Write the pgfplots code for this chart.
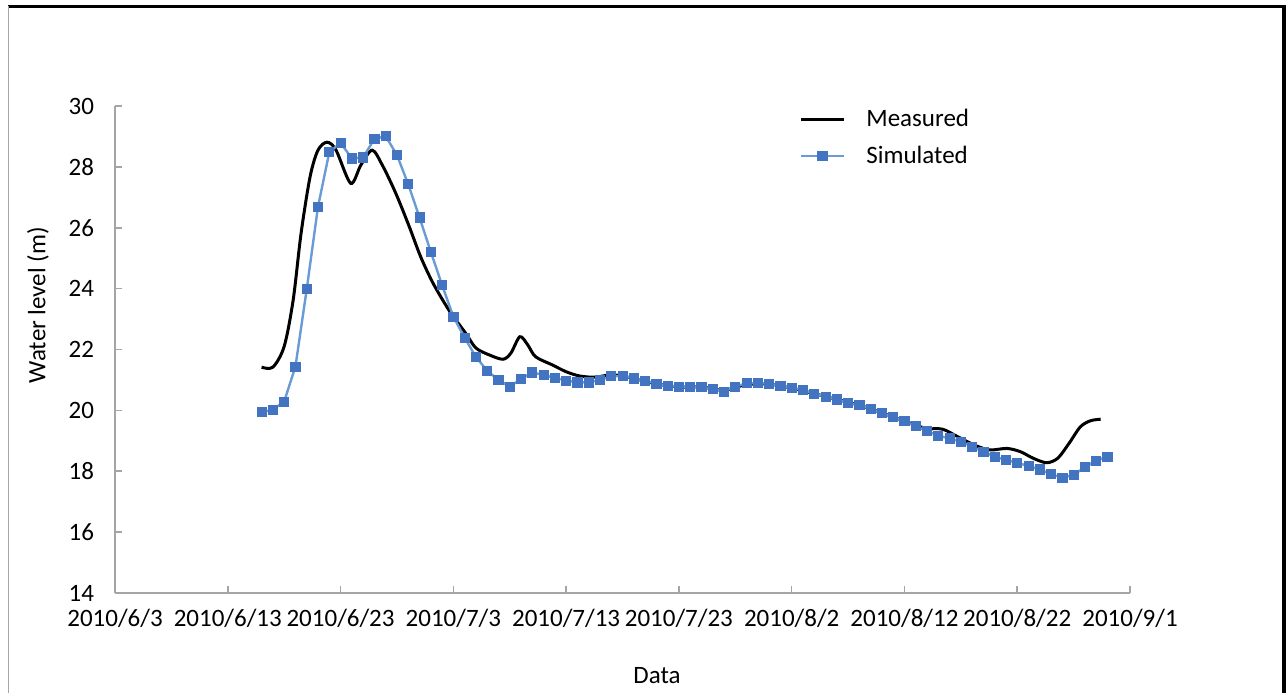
\documentclass[border=0pt]{standalone}
\usepackage{fontspec}
\setmainfont{Carlito}
\usepackage{pgfplots}
\pgfplotsset{compat=1.18}
\usepackage{pgfplotstable}

\definecolor{simline}{RGB}{105,155,212}
\definecolor{simmark}{RGB}{66,116,194}
\definecolor{axgray}{RGB}{165,165,165}

% measured water level (day counted from 2010/6/3)
\pgfplotstableread{
day level
13 21.42
14 21.42
15 22.10
15.8 23.63
16.5 25.82
17.3 27.68
18.0 28.55
18.8 28.81
19.6 28.55
20.9 27.46
21.8 28.06
22.8 28.55
23.7 28.06
24.9 27.13
26.1 26.03
27.1 25.05
28.2 24.18
29.6 23.30
31.1 22.53
32.0 22.05
33.2 21.82
34.4 21.68
35.1 21.88
35.9 22.42
36.6 22.15
37.3 21.76
38.8 21.49
40.0 21.27
41.2 21.13
42.6 21.09
44.1 21.17
46 21.05
48 20.87
50 20.77
52 20.77
54 20.66
56 20.85
58 20.86
60 20.73
62 20.55
64 20.36
66 20.17
68 19.92
70 19.65
71.9 19.41
73.4 19.38
74.9 19.10
76.4 18.83
77.6 18.70
79.1 18.75
80.3 18.64
81.4 18.43
82.6 18.28
83.6 18.43
84.6 18.92
85.6 19.46
86.5 19.66
87.4 19.71
}\measured

% simulated, one value a day
\pgfplotstableread{
day level
13 19.94
14 20.02
15 20.29
16 21.44
17 23.98
18 26.69
19 28.48
20 28.79
21 28.28
22 28.31
23 28.92
24 29.01
25 28.39
26 27.43
27 26.34
28 25.21
29 24.12
30 23.08
31 22.39
32 21.76
33 21.30
34 21.00
35 20.78
36 21.03
37 21.25
38 21.16
39 21.07
40 20.98
41 20.92
42 20.92
43 21.00
44 21.12
45 21.13
46 21.05
47 20.98
48 20.87
49 20.80
50 20.78
51 20.78
52 20.76
53 20.70
54 20.62
55 20.78
56 20.89
57 20.89
58 20.88
59 20.80
60 20.73
61 20.67
62 20.55
63 20.45
64 20.36
65 20.25
66 20.17
67 20.05
68 19.92
69 19.79
70 19.65
71 19.48
72 19.32
73 19.17
74 19.08
75 18.97
76 18.81
77 18.64
78 18.48
79 18.37
80 18.28
81 18.17
82 18.06
83 17.90
84 17.79
85 17.88
86 18.13
87 18.35
88 18.48
}\simulated

\begin{document}
\begin{tikzpicture}[font=\fontsize{12.5}{15}\selectfont]
\useasboundingbox (0,0) rectangle (643.5pt,346.5pt);
% outer frame
\draw[black, line width=1.6pt] (4pt,343.3pt) -- (642pt,343.3pt) -- (642pt,0pt);
\draw[gray!70, line width=0.7pt] (4.2pt,343.3pt) -- (4.2pt,0pt);
\begin{axis}[
    at={(57.5pt,50pt)}, anchor=south west,
    scale only axis,
    width=507.5pt, height=243.5pt,
    xmin=0, xmax=90,
    ymin=14, ymax=30,
    axis x line*=bottom,
    axis y line*=left,
    axis line style={draw=axgray, line width=1pt, -},
    xtick={0,10,...,90},
    xticklabels={2010/6/3,2010/6/13,2010/6/23,2010/7/3,2010/7/13,2010/7/23,2010/8/2,2010/8/12,2010/8/22,2010/9/1},
    ytick={14,16,...,30},
    tick align=inside,
    major tick length=3.5pt,
    tick style={draw=axgray, line width=0.8pt},
    /pgf/number format/assume math mode=true,
    yticklabel style={xshift=-7pt},
    xticklabel style={yshift=-4.5pt},
    xlabel={Data},
    ylabel={Water level (m)},
    every axis x label/.style={at={(rel axis cs:0.534,0)}, anchor=center, yshift=-41.5pt},
    every axis y label/.style={at={(rel axis cs:0,0.591)}, xshift=-38.5pt, rotate=90, anchor=center},
    legend style={at={(0.668,1.01)}, anchor=north west, draw=none, fill=none,
        row sep=4pt, font=\fontsize{12.5}{15}\selectfont,
        /tikz/every odd column/.append style={column sep=8.5pt}},
    legend cell align=left,
    legend image code/.code={\draw[mark repeat=2,mark phase=2,#1] plot coordinates {(0pt,0pt) (10.75pt,0pt) (21.5pt,0pt)};},
]
\addplot[black, line width=1.5pt, smooth, tension=0.5] table[x=day, y=level] {\measured};
\addlegendentry{Measured}
\addplot[simline, line width=1.2pt, mark=square*, mark size=2.3pt,
    mark options={draw=simmark, fill=simmark, line width=0.4pt}] table[x=day, y=level] {\simulated};
\addlegendentry{Simulated}
\end{axis}
\end{tikzpicture}
\end{document}
